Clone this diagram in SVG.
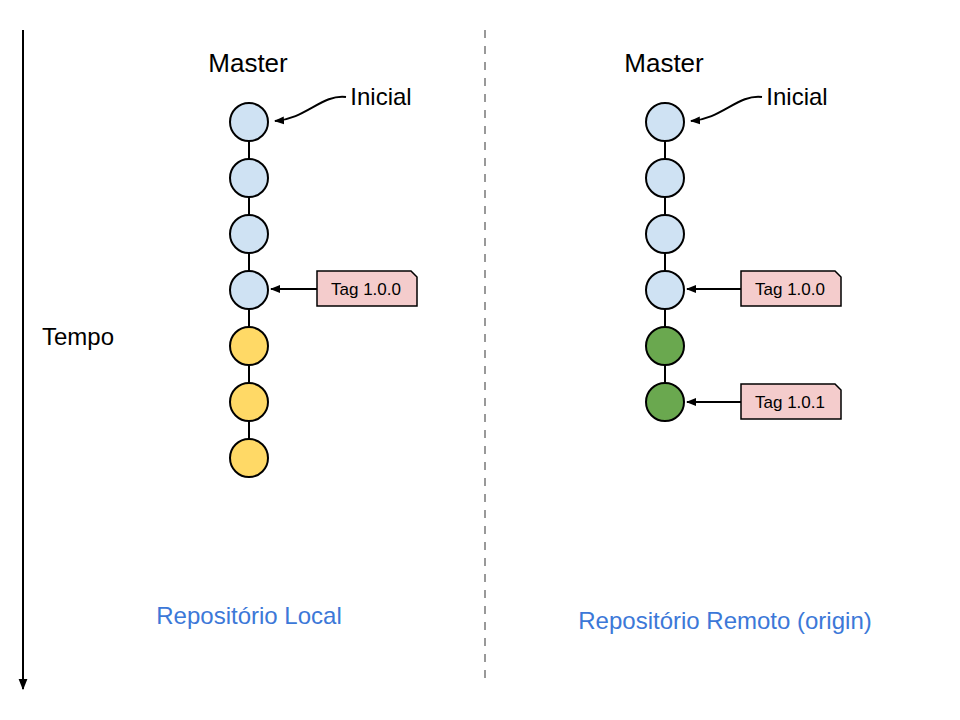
<svg xmlns="http://www.w3.org/2000/svg" width="960" height="720" viewBox="0 0 960 720">
<defs>
<marker id="ah" viewBox="0 0 10 10" refX="9" refY="5" markerWidth="10" markerHeight="10" markerUnits="userSpaceOnUse" orient="auto">
<path d="M0,1 L10,5 L0,9 z" fill="#000"/>
</marker>
<marker id="ah2" viewBox="0 0 10 10" refX="9" refY="5" markerWidth="11" markerHeight="11" markerUnits="userSpaceOnUse" orient="auto">
<path d="M0,1 L10,5 L0,9 z" fill="#000"/>
</marker>
</defs>
<style>
text{font-family:"Liberation Sans","Noto Sans",sans-serif;fill:#000}
.lbl{font-size:24px}
.mst{font-size:26px}
.tag{font-size:17px}
.repo{font-size:24px;fill:#3c78d8}
.c{stroke:#000;stroke-width:2}
.blue{fill:#cfe2f3}
.yel{fill:#ffd966}
.grn{fill:#6aa84f}
.tb{fill:#f4cccc;stroke:#000;stroke-width:1.5}
.ln{stroke:#000;stroke-width:2;fill:none}
</style>
<rect width="960" height="720" fill="#fff"/>
<g id="connectors">
<line class="ln" x1="23" y1="30" x2="23" y2="689" marker-end="url(#ah2)"/>
<line x1="485" y1="30" x2="485" y2="680" stroke="#999" stroke-width="2" stroke-dasharray="8,8"/>
<line class="ln" x1="249" y1="122" x2="249" y2="458"/>
<line class="ln" x1="665" y1="122" x2="665" y2="402"/>
<path class="ln" d="M346,97 C322,94 306,119 275,121" marker-end="url(#ah)"/>
<path class="ln" d="M762,97 C738,94 722,119 691,121" marker-end="url(#ah)"/>
<line class="ln" x1="317" y1="289" x2="271" y2="289" marker-end="url(#ah)"/>
<line class="ln" x1="741" y1="289" x2="687" y2="289" marker-end="url(#ah)"/>
<line class="ln" x1="741" y1="402" x2="687" y2="402" marker-end="url(#ah)"/>
</g>
<g id="tempo"><text class="lbl" x="78" y="345" text-anchor="middle">Tempo</text></g>
<g id="local">
<text class="mst" x="248" y="72" text-anchor="middle">Master</text>
<text class="lbl" x="381" y="105" text-anchor="middle">Inicial</text>
<g id="l1"><circle class="c blue" cx="249" cy="122" r="19"/></g>
<g id="l2"><circle class="c blue" cx="249" cy="178" r="19"/></g>
<g id="l3"><circle class="c blue" cx="249" cy="234" r="19"/></g>
<g id="l4"><circle class="c blue" cx="249" cy="290" r="19"/></g>
<g id="l5"><circle class="c yel" cx="249" cy="346" r="19"/></g>
<g id="l6"><circle class="c yel" cx="249" cy="402" r="19"/></g>
<g id="l7"><circle class="c yel" cx="249" cy="458" r="19"/></g>
<g id="ltag"><path class="tb" d="M317,271 H411 L417,277 V306 H317 Z"/><text class="tag" x="366" y="295" text-anchor="middle">Tag 1.0.0</text></g>
<text class="repo" x="249" y="624" text-anchor="middle">Repositório Local</text>
</g>
<g id="remote">
<text class="mst" x="664" y="72" text-anchor="middle">Master</text>
<text class="lbl" x="797" y="105" text-anchor="middle">Inicial</text>
<g id="r1"><circle class="c blue" cx="665" cy="122" r="19"/></g>
<g id="r2"><circle class="c blue" cx="665" cy="178" r="19"/></g>
<g id="r3"><circle class="c blue" cx="665" cy="234" r="19"/></g>
<g id="r4"><circle class="c blue" cx="665" cy="290" r="19"/></g>
<g id="r5"><circle class="c grn" cx="665" cy="346" r="19"/></g>
<g id="r6"><circle class="c grn" cx="665" cy="402" r="19"/></g>
<g id="rtag1"><path class="tb" d="M741,271 H835 L841,277 V306 H741 Z"/><text class="tag" x="790" y="295" text-anchor="middle">Tag 1.0.0</text></g>
<g id="rtag2"><path class="tb" d="M741,384 H835 L841,390 V419 H741 Z"/><text class="tag" x="790" y="408" text-anchor="middle">Tag 1.0.1</text></g>
<text class="repo" x="725" y="629" text-anchor="middle">Repositório Remoto (origin)</text>
</g>
</svg>
